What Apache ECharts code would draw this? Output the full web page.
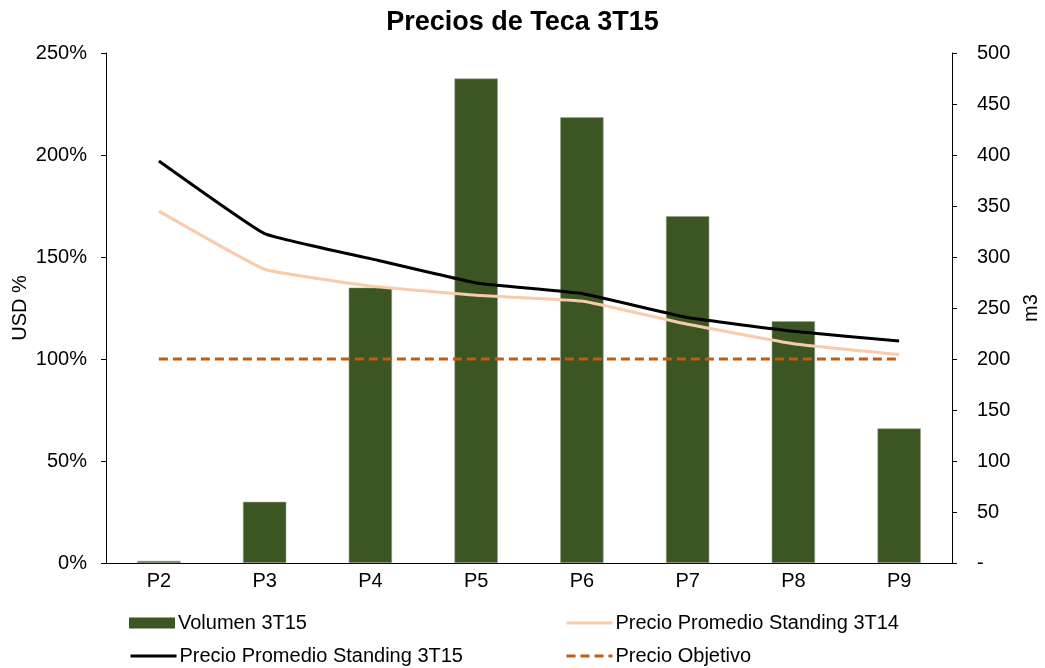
<!DOCTYPE html>
<html>
<head>
<meta charset="utf-8">
<script src="https://cdn.jsdelivr.net/npm/echarts@6/dist/echarts.min.js"></script>
<style>html,body{margin:0;padding:0;background:#fff}#c{width:1045px;height:668px}</style>
</head>
<body>
<div id="c"></div>
<script>
const categories = ['P2','P3','P4','P5','P6','P7','P8','P9'];
const volumen3T15 = [2, 60, 270, 475, 437, 340, 237, 132];
const precio3T14 = [172.5, 144, 135.8, 131.2, 128.4, 117, 107.5, 102.2];
const precio3T15 = [197.1, 161.5, 149.2, 137.3, 132.1, 120.3, 113.6, 108.8];
const precioObjetivo = [100, 100, 100, 100, 100, 100, 100, 100];
const leftTicks = {min: 0, max: 250, interval: 50};
const rightTicks = {min: 0, max: 500, interval: 50};

const font = 'Liberation Sans, Arial, sans-serif';
const hideSym = {opacity: 0};
function legendAt(left, top, item) {
  return {
    left: left, top: top, orient: 'horizontal', itemWidth: 46, itemHeight: 11, padding: 0,
    data: [item],
    lineStyle: {width: 3},
    textStyle: {fontFamily: font, fontSize: 20, lineHeight: 20, color: '#000', padding: [0,0,0,-2]}
  };
}
const chart = echarts.init(document.getElementById('c'));
chart.setOption({
  animation: false,
  title: {
    text: 'Precios de Teca 3T15', left: 'center', top: 4,
    textStyle: {fontFamily: font, fontSize: 27, fontWeight: 'bold', color: '#000'}
  },
  legend: [
    legendAt(129, 613, {name: 'Volumen 3T15', icon: 'rect', itemStyle: {borderWidth: 0}}),
    legendAt(129, 646, {name: 'Precio Promedio Standing 3T15', itemStyle: hideSym}),
    legendAt(565, 613, {name: 'Precio Promedio Standing 3T14', itemStyle: hideSym}),
    legendAt(565, 646, {name: 'Precio Objetivo', itemStyle: hideSym})
  ],
  grid: {left: 106, right: 93, top: 53, bottom: 105, containLabel: false, outerBoundsMode: 'none'},
  xAxis: {
    type: 'category', data: categories,
    axisLine: {lineStyle: {color: '#000', width: 1}},
    axisTick: {show: false},
    axisLabel: {fontFamily: font, fontSize: 20, color: '#000', margin: 8}
  },
  yAxis: [
    {
      type: 'value', min: leftTicks.min, max: leftTicks.max, interval: leftTicks.interval,
      name: 'USD %', nameLocation: 'middle', nameGap: 76, nameRotate: 90, nameMoveOverlap: false,
      nameTextStyle: {fontFamily: font, fontSize: 20, color: '#000'},
      axisLine: {show: true, lineStyle: {color: '#000'}},
      axisTick: {show: true, length: 5, lineStyle: {color: '#000'}},
      splitLine: {show: false},
      axisLabel: {fontFamily: font, fontSize: 20, color: '#000', margin: 19, formatter: v => v + '%'}
    },
    {
      type: 'value', min: rightTicks.min, max: rightTicks.max, interval: rightTicks.interval,
      name: 'm3', nameLocation: 'middle', nameGap: 67, nameRotate: 90,
      nameTextStyle: {fontFamily: font, fontSize: 20, color: '#000'},
      axisLine: {show: true, lineStyle: {color: '#000'}},
      axisTick: {show: true, length: 5, lineStyle: {color: '#000'}},
      splitLine: {show: false},
      axisLabel: {fontFamily: font, fontSize: 20, color: '#000', margin: 25, formatter: v => v === 0 ? '-' : String(v)}
    }
  ],
  series: [
    {
      name: 'Volumen 3T15', type: 'bar', yAxisIndex: 1, data: volumen3T15,
      barWidth: '41%',
      itemStyle: {color: '#3B5623', borderColor: '#9aa595', borderWidth: 0.6}
    },
    {
      name: 'Precio Promedio Standing 3T14', type: 'line', yAxisIndex: 0, data: precio3T14,
      symbol: 'none', smooth: 0.1,
      lineStyle: {color: '#F8CBAD', width: 3}, itemStyle: {color: '#F8CBAD'}
    },
    {
      name: 'Precio Promedio Standing 3T15', type: 'line', yAxisIndex: 0, data: precio3T15,
      symbol: 'none', smooth: 0.1,
      lineStyle: {color: '#000000', width: 3}, itemStyle: {color: '#000000'}
    },
    {
      name: 'Precio Objetivo', type: 'line', yAxisIndex: 0, data: precioObjetivo,
      symbol: 'none',
      lineStyle: {color: '#C55A11', width: 3, type: [9, 5]}, itemStyle: {color: '#C55A11'}
    }
  ]
});
</script>
</body>
</html>
